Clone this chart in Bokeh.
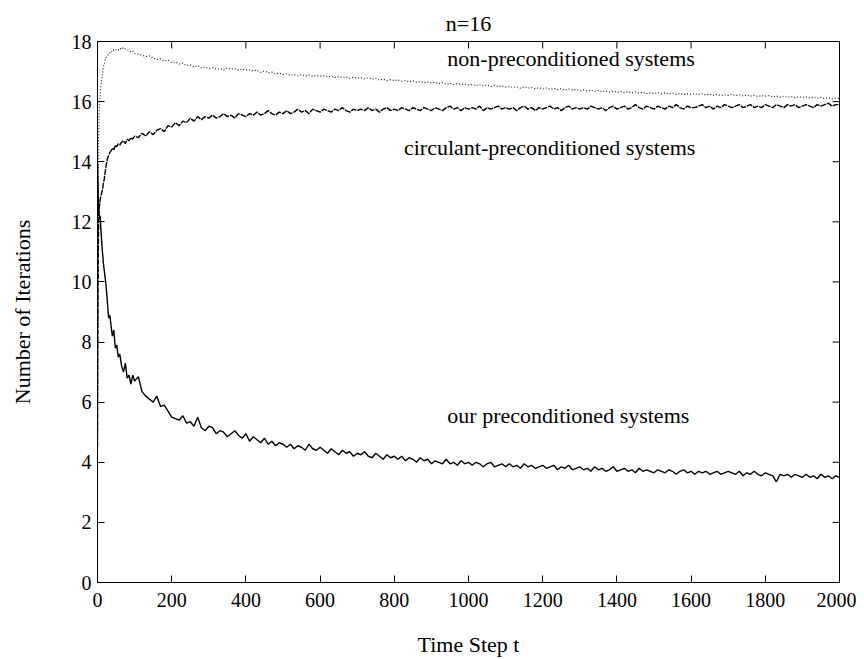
import math
from bokeh.plotting import figure
from bokeh.models import Range1d, FixedTicker, ColumnDataSource
from bokeh.core.properties import value
from bokeh.embed import file_html
from bokeh.resources import INLINE

# ---------------- data ----------------
title_text = "n=16"
x_label = "Time Step t"
y_label = "Number of Iterations"
x_ticks = [0, 200, 400, 600, 800, 1000, 1200, 1400, 1600, 1800, 2000]
y_ticks = [0, 2, 4, 6, 8, 10, 12, 14, 16, 18]
series_names = ["non-preconditioned systems", "circulant-preconditioned systems", "our preconditioned systems"]

t_early = [0, 1, 2, 3, 4, 5, 6, 7, 8, 10, 12, 14, 16, 18, 20, 22, 25, 28, 30, 33,
           36, 40, 44, 48, 52, 56, 60, 65, 70, 75, 80, 85, 90, 95, 100]
t_late = list(range(110, 2001, 10))
time_step = t_early + t_late

ours = [
    14.0, 13.4, 12.9, 12.5, 12.3, 12.2, 12.1, 12.2, 12.0, 11.6, 11.2, 10.9, 10.6, 10.4, 10.2, 10.0, 9.6, 9.1, 8.8, 8.9,
    8.6, 8.2, 8.4, 7.8, 7.9, 7.5, 7.6, 7.2, 7.0, 7.3, 6.8, 6.9, 6.6, 6.9, 6.7,
    6.85, 6.35, 6.2, 6.1, 6.0, 6.2, 5.85, 5.9, 5.7, 5.5,
    5.45, 5.4, 5.55, 5.3, 5.35, 5.2, 5.5, 5.15, 5.05, 5.2,
    5.15, 4.95, 5.05, 5.0, 4.85, 4.95, 5.05, 4.9, 4.8, 4.95,
    4.7, 4.85, 4.75, 4.65, 4.8, 4.6, 4.7, 4.55, 4.65, 4.6,
    4.5, 4.6, 4.45, 4.55, 4.5, 4.4, 4.6, 4.45, 4.4, 4.5,
    4.4, 4.3, 4.45, 4.35, 4.25, 4.4, 4.3, 4.35, 4.2, 4.3,
    4.25, 4.35, 4.2, 4.15, 4.3, 4.2, 4.1, 4.25, 4.15, 4.2,
    4.1, 4.2, 4.05, 4.15, 4.1, 4.0, 4.15, 4.05, 4.1, 3.95,
    4.05, 4.0, 3.95, 4.1, 3.95, 4.0, 3.9, 4.05, 3.95, 4.0,
    3.9, 4.0, 3.95, 3.85, 3.95, 4.0, 3.85, 3.9, 3.95, 3.85,
    3.95, 3.85, 3.9, 3.8, 3.95, 3.85, 3.9, 3.8, 3.85, 3.9,
    3.8, 3.85, 3.9, 3.75, 3.85, 3.8, 3.9, 3.75, 3.8, 3.85,
    3.75, 3.8, 3.7, 3.85, 3.75, 3.8, 3.7, 3.75, 3.85, 3.7,
    3.75, 3.8, 3.7, 3.75, 3.65, 3.8, 3.7, 3.75, 3.7, 3.65,
    3.75, 3.7, 3.65, 3.75, 3.7, 3.6, 3.7, 3.75, 3.65, 3.7,
    3.6, 3.7, 3.65, 3.7, 3.6, 3.65, 3.7, 3.6, 3.65, 3.7,
    3.65, 3.6, 3.7, 3.55, 3.65, 3.6, 3.7, 3.6, 3.55, 3.65,
    3.6, 3.55, 3.35, 3.6, 3.55, 3.6, 3.5, 3.6, 3.55, 3.5,
    3.6, 3.5, 3.55, 3.45, 3.6, 3.5, 3.55, 3.45, 3.55, 3.5,
]

circulant = [
    4.5, 8.5, 10.8, 11.9, 12.4, 12.5, 12.6, 12.7, 12.8, 12.9, 13.0, 13.1, 13.3, 13.4, 13.6, 13.75, 14.0, 14.15, 14.2, 14.3,
    14.35, 14.45, 14.4, 14.55, 14.5, 14.6, 14.55, 14.65, 14.7, 14.6, 14.75, 14.7, 14.8, 14.75, 14.85,
    14.8, 14.95, 14.85, 15.0, 14.9, 15.05, 15.1, 15.0, 15.2, 15.15,
    15.3, 15.2, 15.35, 15.3, 15.45, 15.35, 15.5, 15.4, 15.5, 15.45,
    15.55, 15.45, 15.5, 15.6, 15.5, 15.55, 15.45, 15.6, 15.55, 15.5,
    15.6, 15.55, 15.65, 15.55, 15.6, 15.7, 15.6, 15.55, 15.65, 15.6,
    15.7, 15.6, 15.65, 15.75, 15.65, 15.7, 15.6, 15.75, 15.7, 15.65,
    15.75, 15.7, 15.65, 15.75, 15.7, 15.8, 15.7, 15.65, 15.75, 15.7,
    15.75, 15.7, 15.8, 15.7, 15.75, 15.65, 15.75, 15.8, 15.7, 15.75,
    15.7, 15.8, 15.75, 15.7, 15.8, 15.75, 15.7, 15.8, 15.75, 15.7,
    15.8, 15.75, 15.7, 15.8, 15.85, 15.75, 15.8, 15.7, 15.8, 15.75,
    15.8, 15.75, 15.85, 15.7, 15.8, 15.75, 15.8, 15.85, 15.75, 15.8,
    15.75, 15.8, 15.7, 15.8, 15.85, 15.75, 15.8, 15.7, 15.8, 15.75,
    15.8, 15.85, 15.75, 15.8, 15.7, 15.8, 15.85, 15.75, 15.8, 15.75,
    15.8, 15.75, 15.85, 15.8, 15.75, 15.8, 15.7, 15.8, 15.85, 15.75,
    15.8, 15.85, 15.75, 15.8, 15.9, 15.8, 15.75, 15.85, 15.8, 15.75,
    15.85, 15.8, 15.75, 15.85, 15.8, 15.9, 15.8, 15.75, 15.85, 15.8,
    15.8, 15.85, 15.9, 15.8, 15.85, 15.75, 15.85, 15.8, 15.9, 15.85,
    15.8, 15.85, 15.9, 15.8, 15.85, 15.9, 15.8, 15.85, 15.8, 15.9,
    15.85, 15.8, 15.9, 15.85, 15.8, 15.9, 15.85, 15.9, 15.8, 15.85,
    15.9, 15.85, 15.8, 15.9, 15.85, 15.9, 15.95, 15.85, 15.9, 15.9,
]

non_pre = [
    6.0, 10.0, 13.0, 14.8, 15.5, 15.8, 16.0, 16.2, 16.35, 16.6, 16.85, 17.0, 17.15, 17.25, 17.35, 17.45, 17.5, 17.55, 17.6, 17.62,
    17.68, 17.65, 17.72, 17.7, 17.75, 17.72, 17.78, 17.74, 17.8, 17.75, 17.72, 17.7, 17.65, 17.68, 17.6,
    17.58, 17.55, 17.5, 17.52, 17.45, 17.4, 17.42, 17.35, 17.38, 17.3,
    17.32, 17.25, 17.28, 17.2, 17.22, 17.15, 17.2, 17.12, 17.15, 17.1,
    17.12, 17.08, 17.1, 17.05, 17.12, 17.08, 17.1, 17.04, 17.08, 17.05,
    17.06, 17.02, 17.05, 16.98, 17.02, 16.96, 16.98, 16.92, 16.95, 16.9,
    16.92, 16.88, 16.9, 16.86, 16.9, 16.85, 16.88, 16.84, 16.87, 16.85,
    16.86, 16.82, 16.85, 16.8, 16.83, 16.8, 16.82, 16.78, 16.81, 16.78,
    16.8, 16.76, 16.79, 16.75, 16.77, 16.72, 16.75, 16.7, 16.73, 16.7,
    16.72, 16.68, 16.7, 16.66, 16.69, 16.64, 16.67, 16.63, 16.65, 16.62,
    16.64, 16.6, 16.63, 16.58, 16.61, 16.57, 16.6, 16.56, 16.58, 16.55,
    16.57, 16.53, 16.56, 16.52, 16.55, 16.5, 16.54, 16.5, 16.52, 16.48,
    16.5, 16.47, 16.5, 16.45, 16.49, 16.45, 16.47, 16.43, 16.46, 16.42,
    16.45, 16.41, 16.44, 16.4, 16.43, 16.38, 16.42, 16.38, 16.4, 16.36,
    16.39, 16.35, 16.38, 16.34, 16.37, 16.33, 16.36, 16.32, 16.35, 16.31,
    16.34, 16.3, 16.33, 16.29, 16.32, 16.28, 16.31, 16.27, 16.3, 16.27,
    16.3, 16.26, 16.29, 16.25, 16.28, 16.24, 16.27, 16.23, 16.26, 16.24,
    16.27, 16.23, 16.26, 16.22, 16.25, 16.21, 16.24, 16.2, 16.23, 16.21,
    16.24, 16.2, 16.23, 16.19, 16.22, 16.18, 16.21, 16.17, 16.2, 16.18,
    16.2, 16.16, 16.19, 16.15, 16.18, 16.14, 16.17, 16.13, 16.16, 16.14,
    16.16, 16.12, 16.15, 16.11, 16.14, 16.1, 16.13, 16.09, 16.12, 16.1,
]

# ---------------- figure ----------------
FONT = "Liberation Serif"
TICK_FS = "20px"
LABEL_FS = "22px"

X0, X1 = x_ticks[0], x_ticks[-1]
Y0, Y1 = y_ticks[0], y_ticks[-1]

p = figure(width=856, height=659, output_backend="svg", toolbar_location=None,
           x_range=Range1d(X0, X1), y_range=Range1d(Y0, Y1),
           min_border_left=97, min_border_right=17, min_border_top=41, min_border_bottom=77)
p.background_fill_color = "white"
p.border_fill_color = "white"
p.outline_line_color = "black"
p.outline_line_width = 1
p.xgrid.visible = False
p.ygrid.visible = False

p.title.text = title_text
p.title.align = "center"
p.title.vertical_align = "top"
p.title.text_font = FONT
p.title.text_font_size = LABEL_FS
p.title.text_font_style = "normal"
p.title.text_color = "black"
p.title.standoff = 8

src = ColumnDataSource(dict(t=time_step, ours=ours, circ=circulant, nonp=non_pre))
p.line("t", "nonp", source=src, line_color="#222222", line_width=1.2, line_dash="1 2")
p.line("t", "circ", source=src, line_color="black", line_width=1.4, line_dash="6 1")
p.line("t", "ours", source=src, line_color="black", line_width=1.4)

def style_axis(ax, ticks):
    ax.ticker = FixedTicker(ticks=ticks)
    ax.major_tick_in = 7
    ax.major_tick_out = 0
    ax.minor_tick_in = 0
    ax.minor_tick_out = 0
    ax.axis_line_color = "black"
    ax.major_tick_line_color = "black"
    ax.major_label_text_font = FONT
    ax.major_label_text_font_size = TICK_FS
    ax.major_label_text_color = "black"
    ax.axis_label_text_font = FONT
    ax.axis_label_text_font_size = LABEL_FS
    ax.axis_label_text_font_style = "normal"
    ax.axis_label_text_color = "black"

xa = p.xaxis[0]
style_axis(xa, x_ticks)
xa.axis_label = x_label
xa.major_label_standoff = 10
xa.axis_label_standoff = 22

ya = p.yaxis[0]
style_axis(ya, y_ticks)
ya.axis_label = y_label
ya.major_label_standoff = 6
ya.axis_label_standoff = 34
ya.major_label_orientation = "horizontal"

# inward tick marks on the top and right edges of the box (clipped to the frame)
p.scatter(x=x_ticks, y=[Y1] * len(x_ticks), marker="dash", size=14, angle=math.pi / 2,
          line_color="black", line_width=1)
p.scatter(x=[X1] * len(y_ticks), y=y_ticks, marker="dash", size=14,
          line_color="black", line_width=1)

p.text(x=[943], y=[17.42], text=[series_names[0]], text_font=value(FONT), text_font_size=LABEL_FS,
       text_baseline="middle", text_align="left", text_color="black")
p.text(x=[826], y=[14.48], text=[series_names[1]], text_font=value(FONT), text_font_size=LABEL_FS,
       text_baseline="middle", text_align="left", text_color="black")
p.text(x=[943], y=[5.57], text=[series_names[2]], text_font=value(FONT), text_font_size=LABEL_FS,
       text_baseline="middle", text_align="left", text_color="black")

open("out.html", "w").write(file_html(p, INLINE))
